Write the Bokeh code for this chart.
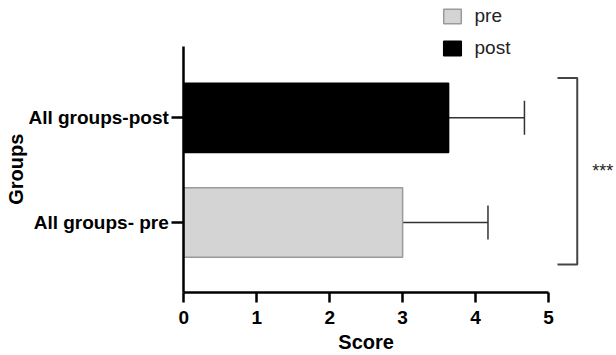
import math
from bokeh.plotting import figure
from bokeh.models import (Range1d, FixedTicker, Legend, LegendItem, Whisker, TeeHead,
                          ColumnDataSource, Label)
from bokeh.core.properties import value
from bokeh.embed import file_html
from bokeh.resources import INLINE

# ---- data ----
categories = ["All groups- pre", "All groups-post"]
series = ["pre", "post"]
scores = [3.00, 3.63]
sd_upper = [1.17, 1.04]
x_ticks = [0, 1, 2, 3, 4, 5]
x_title = "Score"
y_title = "Groups"
significance = "***"

# ---- style / layout ----
FONT = "Liberation Sans"
bar_fill = ["#d4d4d4", "#000000"]
bar_line = ["#9a9a9a", "#000000"]
BAR_H = 0.664
W, H = 616, 355
X_RANGE = (-2.513, 5.932)     # whole canvas is the frame
Y_RANGE = (-1.2715, 2.122)
Y_AXIS_BOUNDS = (-0.666, 1.683)

ypos = list(range(len(categories)))

p = figure(width=W, height=H, output_backend="svg", toolbar_location=None,
           x_range=Range1d(*X_RANGE), y_range=Range1d(*Y_RANGE), min_border=0)
p.outline_line_color = None
p.grid.visible = False
p.background_fill_color = "white"

renderers = []
for i, s in enumerate(series):
    src = ColumnDataSource(dict(y=[ypos[i]], right=[scores[i]]))
    r = p.hbar(y="y", right="right", left=0, height=BAR_H, source=src,
               fill_color=bar_fill[i], line_color=bar_line[i], line_width=1.5)
    renderers.append(r)

err_src = ColumnDataSource(dict(base=ypos, lower=scores,
                                upper=[s + e for s, e in zip(scores, sd_upper)]))
wh = Whisker(base="base", lower="lower", upper="upper", dimension="width", source=err_src,
             line_color="#333333", line_width=1.5,
             lower_head=None,
             upper_head=TeeHead(size=34, line_color="#333333", line_width=1.5))
p.add_layout(wh)

# significance bracket spanning both bars
b_top = ypos[1] + BAR_H / 2 + 0.048
b_bot = ypos[0] - BAR_H / 2 - 0.07
bx, bx0 = 5.394, 5.123
p.line(x=[bx0, bx, bx, bx0], y=[b_top, b_top, b_bot, b_bot], line_color="#444444", line_width=2)
p.text(x=[5.6], y=[(b_top + b_bot) / 2], text=[significance], text_font=value(FONT),
       text_font_size="18px", text_baseline="middle", text_align="left", text_color="#222222")

# axes (drawn at fixed locations, lines limited to their bounds)
for ax in (p.xaxis[0], p.yaxis[0]):
    ax.axis_line_width = 2.5
    ax.axis_line_color = "black"
    ax.major_tick_line_width = 2.5
    ax.major_tick_line_color = "black"
    ax.minor_tick_line_color = None
    ax.major_tick_in = 0
    ax.major_label_text_font = FONT
    ax.major_label_text_font_style = "bold"
    ax.major_label_text_font_size = "19px"
    ax.major_label_text_color = "black"

xa = p.xaxis[0]
xa.ticker = FixedTicker(ticks=x_ticks)
xa.bounds = (x_ticks[0], x_ticks[-1])
xa.fixed_location = Y_AXIS_BOUNDS[0]
xa.major_tick_out = 10
xa.major_label_standoff = 9

ya = p.yaxis[0]
ya.ticker = FixedTicker(ticks=ypos)
ya.major_label_overrides = {i: c for i, c in zip(ypos, categories)}
ya.bounds = Y_AXIS_BOUNDS
ya.fixed_location = 0
ya.major_tick_out = 12
ya.major_label_standoff = 3

# axis titles, centred on the axis lines
p.add_layout(Label(x=(x_ticks[0] + x_ticks[-1]) / 2, y=-1.14, text=x_title,
                   text_font=FONT, text_font_style="bold", text_font_size="20px",
                   text_color="black", text_align="center", text_baseline="middle"))
p.add_layout(Label(x=-2.307, y=sum(Y_AXIS_BOUNDS) / 2, text=y_title, angle=math.pi / 2,
                   text_font=FONT, text_font_style="bold", text_font_size="20px",
                   text_color="black", text_align="center", text_baseline="middle"))

legend = Legend(items=[LegendItem(label=s, renderers=[r]) for s, r in zip(series, renderers)],
                location=(440.5, 296), orientation="vertical",
                glyph_width=22, glyph_height=18, label_height=18, spacing=10,
                label_standoff=12, padding=0, margin=0,
                label_text_font=FONT, label_text_font_size="19px", label_text_color="#222222",
                border_line_color=None, background_fill_alpha=0)
p.add_layout(legend, "center")

open("out.html", "w").write(file_html(p, INLINE))
